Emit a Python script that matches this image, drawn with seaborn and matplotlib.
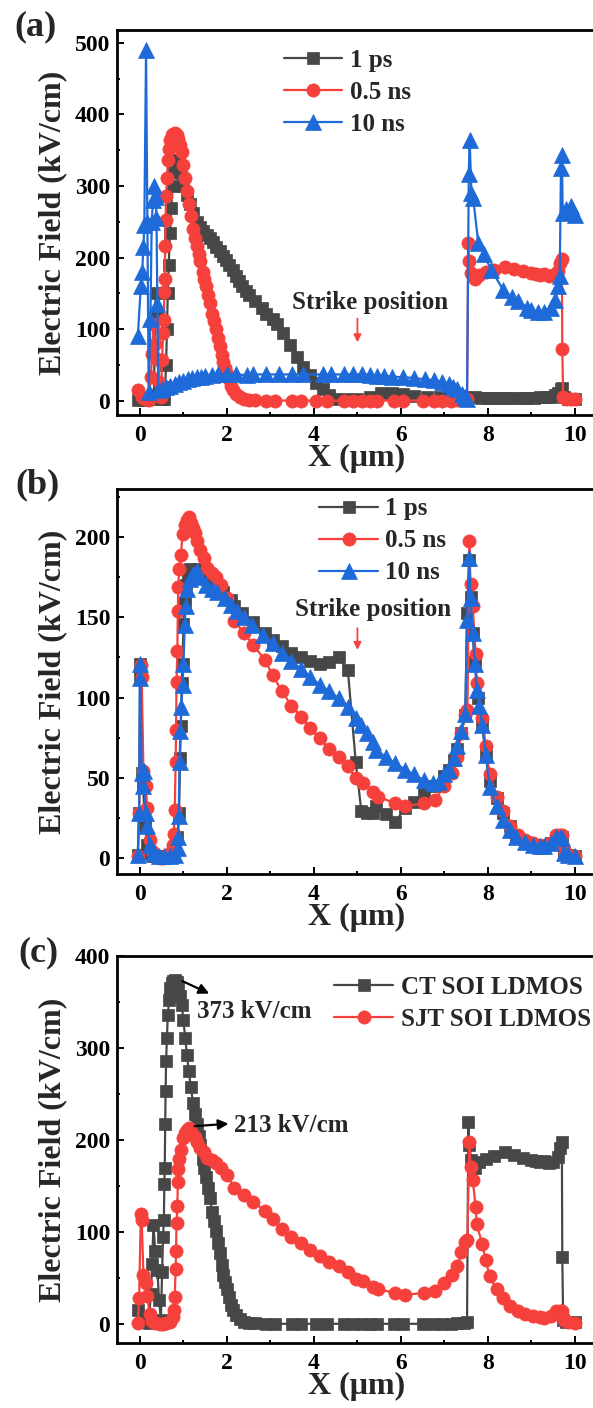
import matplotlib
matplotlib.use("Agg")
import matplotlib.pyplot as plt
import seaborn as sns
from matplotlib.ticker import MultipleLocator

# ---------------- data ----------------
# (a) 1 ps
a1_x = [-0.05, 0.1, 0.25, 0.32, 0.36, 0.4, 0.44, 0.5, 0.55, 0.58, 0.6, 0.62, 0.64, 0.66, 0.69, 0.72, 0.75, 0.78,
        0.82, 0.86, 0.9, 0.95, 1.0, 1.08, 1.15, 1.22, 1.3, 1.38, 1.45, 1.53, 1.6, 1.68, 1.75, 1.83, 1.9, 1.98, 2.05,
        2.13, 2.2, 2.28, 2.35, 2.43, 2.5, 2.65, 2.8, 2.9, 3.05, 3.15, 3.3, 3.45, 3.6, 3.75, 3.9, 4.05, 4.2, 4.35,
        4.5, 4.75, 5.0, 5.3, 5.55, 5.8, 6.05, 6.3, 6.6, 6.9, 7.2, 7.45, 7.7, 7.85, 8.0, 8.15, 8.3, 8.45, 8.6, 8.75,
        8.9, 9.05, 9.2, 9.35, 9.45, 9.55, 9.62, 9.68, 9.71, 9.75, 9.85, 10.0]
a1_y = [1, 1, 2, 8, 150, 120, 10, 2, 2, 20, 50, 100, 150, 190, 235, 270, 300, 320,
        332, 337, 333, 318, 300, 287, 275, 262, 250, 243, 237, 232, 228, 222, 215, 209, 203, 197, 190,
        183, 175, 168, 160, 154, 148, 140, 130, 122, 114, 107, 95, 78, 62, 48, 36, 25, 16, 8,
        3, 2, 3, 6, 11, 11, 10, 7, 5, 5, 5, 5, 5, 4, 4, 4, 4, 4, 4, 4,
        4, 4, 5, 5, 6, 8, 11, 16, 18, 5, 3, 3]

# (a) 0.5 ns  == (c) CT SOI LDMOS
ct_x = [-0.05, 0.04, 0.12, 0.2, 0.25, 0.28, 0.31, 0.35, 0.4, 0.44, 0.48, 0.51, 0.53, 0.55, 0.56, 0.57, 0.58, 0.59,
        0.6, 0.62, 0.64, 0.67, 0.7, 0.73, 0.76, 0.8, 0.84, 0.88, 0.92, 0.96, 1.0, 1.04, 1.08, 1.12, 1.17, 1.22,
        1.26, 1.3, 1.35, 1.39, 1.44, 1.48, 1.52, 1.57, 1.61, 1.66, 1.7, 1.74, 1.79, 1.83, 1.88, 1.92, 1.96, 2.0,
        2.04, 2.09, 2.13, 2.2, 2.3, 2.4, 2.5, 2.65, 2.9, 3.1, 3.5, 3.7, 4.05, 4.3, 4.7, 4.9, 5.1, 5.3, 5.45, 5.85,
        6.05, 6.5, 6.75, 6.95, 7.15, 7.3, 7.45, 7.52, 7.55, 7.57, 7.62, 7.7, 7.8, 7.95, 8.15, 8.4, 8.6, 8.8, 9.0,
        9.1, 9.2, 9.3, 9.4, 9.5, 9.6, 9.66, 9.7, 9.71, 9.73, 9.8, 9.9, 10.0]
ct_y = [15, 5, 3, 1, 33, 66, 108, 80, 59, 26, 5, 57, 95, 113, 152, 170, 217, 253,
        286, 311, 336, 352, 365, 371, 373, 374, 372, 366, 357, 347, 330, 311, 293, 275, 258, 240,
        228, 217, 205, 195, 180, 170, 160, 148, 137, 122, 112, 101, 88, 77, 64, 54, 46, 38,
        30, 21, 15, 10, 6, 3, 1.5, 1, 0.5, 0.5, 0.5, 0.5, 0.5, 0.5, 0.5, 0.5, 0.5, 0.5, 0.5, 0.5,
        0.5, 0.5, 0.5, 0.5, 0.5, 1, 1, 2, 220, 195, 178, 170, 176, 180, 183, 187, 184, 181, 178,
        177, 176, 177, 175, 176, 182, 192, 198, 73, 5, 3, 3, 3]

# (a) 10 ns
a3_x = [-0.05, 0.02, 0.05, 0.08, 0.1, 0.14, 0.17, 0.2, 0.24, 0.27, 0.3, 0.33, 0.36, 0.38, 0.4, 0.42, 0.5, 0.6,
        0.7, 0.8, 0.9, 1.0, 1.1, 1.2, 1.3, 1.4, 1.5, 1.65, 1.8, 2.0, 2.2, 2.45, 2.6, 2.9, 3.2, 3.5, 3.75, 4.2,
        4.4, 4.7, 4.9, 5.1, 5.3, 5.45, 5.6, 5.8, 6.05, 6.3, 6.55, 6.75, 6.95, 7.1, 7.2, 7.3, 7.4, 7.48, 7.52,
        7.56, 7.58, 7.62, 7.66, 7.78, 7.9, 8.08, 8.35, 8.55, 8.7, 8.9, 9.0, 9.15, 9.3, 9.45, 9.55, 9.62, 9.65,
        9.68, 9.7, 9.72, 9.8, 9.9, 10.0]
a3_y = [90, 160, 180, 215, 245, 490, 250, 12, 115, 250, 280, 300, 285, 255, 135, 15, 17, 19,
        21, 24, 26, 28, 30, 32, 33, 34, 35, 36, 37, 37, 37, 36, 37, 37, 37, 37, 37, 37,
        37, 37, 37, 37, 36, 35, 35, 34, 33, 32, 30, 29, 27, 24, 20, 16, 9, 5, 3,
        317, 365, 290, 283, 220, 205, 183, 155, 145, 139, 130, 127, 124, 124, 130, 141, 160, 174,
        325, 344, 262, 268, 272, 260]

# (b) 1 ps
b1_x = [-0.05, -0.02, 0.0, 0.01, 0.04, 0.07, 0.12, 0.17, 0.22, 0.3, 0.4, 0.5, 0.6, 0.7, 0.8, 0.86, 0.9, 0.92,
        0.94, 0.96, 0.98, 1.0, 1.03, 1.06, 1.1, 1.16, 1.3, 1.42, 1.52, 1.64, 1.74, 1.9, 2.09, 2.17, 2.35, 2.6,
        2.87, 3.05, 3.26, 3.48, 3.7, 3.91, 4.13, 4.35, 4.57, 4.78, 4.96, 5.09, 5.22, 5.35, 5.43, 5.65, 5.87,
        6.09, 6.3, 6.52, 6.74, 7.0, 7.1, 7.22, 7.3, 7.39, 7.48, 7.52, 7.57, 7.6, 7.65, 7.7, 7.78, 7.87, 7.95,
        8.04, 8.2, 8.35, 8.5, 8.65, 8.85, 9.04, 9.2, 9.3, 9.45, 9.57, 9.65, 9.7, 9.74, 9.85, 10.0]
b1_y = [2, 28, 113, 121, 53, 45, 20, 8, 3, 1, 1, 0, 1, 2, 5, 13, 28, 62,
        82, 109, 121, 146, 159, 170, 178, 180, 180, 177, 174, 172, 170, 166, 161, 157, 153, 147,
        140, 136, 132, 128, 125, 123, 121, 122, 125, 117, 60, 29, 28, 28, 32, 27, 22,
        31, 35, 40, 45, 51, 55, 61, 68, 78, 89, 153, 186, 163, 140, 122, 100, 82, 65,
        48, 37, 28, 20, 13, 10, 8, 7, 7, 9, 11, 13, 13, 3, 2, 1]

# (b) 0.5 ns == (c) SJT SOI LDMOS
sjt_x = [-0.05, -0.02, 0.02, 0.04, 0.08, 0.13, 0.17, 0.22, 0.28, 0.35, 0.45, 0.52, 0.6, 0.7, 0.75, 0.78, 0.8,
         0.82, 0.83, 0.84, 0.86, 0.87, 0.88, 0.9, 0.94, 0.98, 1.03, 1.08, 1.12, 1.17, 1.22, 1.26, 1.32, 1.39,
         1.48, 1.55, 1.65, 1.74, 1.87, 2.0, 2.17, 2.4, 2.6, 2.87, 3.05, 3.26, 3.48, 3.7, 3.91, 4.13, 4.35, 4.57,
         4.78, 4.96, 5.13, 5.35, 5.48, 5.87, 6.09, 6.52, 6.78, 7.0, 7.17, 7.3, 7.39, 7.48, 7.53, 7.57, 7.6, 7.65,
         7.72, 7.74, 7.87, 7.95, 8.04, 8.2, 8.35, 8.5, 8.7, 8.85, 9.04, 9.2, 9.3, 9.45, 9.57, 9.65, 9.7, 9.74,
         9.85, 10.0]
sjt_y = [1, 28, 120, 113, 54, 45, 31, 11, 4, 1, 0, 0, 1, 3, 8, 15, 30,
         60, 80, 110, 129, 154, 169, 180, 189, 202, 208, 211, 213, 209, 206, 203, 198, 192,
         187, 181, 178, 175, 170, 162, 148, 140, 133, 123.5, 114, 104, 95, 88, 81, 74.6, 68, 63,
         57, 49.6, 46.5, 41, 38, 34, 32, 34, 36, 45, 53, 63, 78, 89, 92, 197.5, 171, 157,
         127, 109, 87, 70, 52, 38, 29, 20, 14, 11, 9, 8, 7, 9, 14, 14, 14, 5,
         2, 1]

# (b) 10 ns
b3_x = [-0.05, -0.02, 0.0, 0.01, 0.04, 0.07, 0.09, 0.13, 0.17, 0.22, 0.3, 0.43, 0.55, 0.7, 0.8, 0.87, 0.88, 0.89,
        0.91, 0.93, 0.95, 0.98, 1.0, 1.03, 1.05, 1.09, 1.15, 1.22, 1.3, 1.39, 1.52, 1.65, 1.78, 1.95, 2.09, 2.22,
        2.4, 2.57, 2.83, 3.05, 3.26, 3.48, 3.7, 3.91, 4.13, 4.35, 4.57, 4.78, 4.96, 5.09, 5.22, 5.35, 5.43, 5.65,
        5.87, 6.09, 6.3, 6.52, 6.74, 6.87, 7.0, 7.1, 7.22, 7.3, 7.39, 7.48, 7.52, 7.57, 7.6, 7.65, 7.7, 7.74,
        7.8, 7.87, 7.95, 8.04, 8.2, 8.35, 8.5, 8.65, 8.85, 9.04, 9.2, 9.3, 9.45, 9.57, 9.65, 9.7, 9.74, 9.85, 10.0]
b3_y = [2, 28, 121, 112, 53, 45, 54, 28, 20, 8, 3, 1, 1, 1, 2, 6, 13, 26,
        60, 79, 94, 108, 121, 145, 157, 168, 174, 177, 179, 175, 170, 168, 166, 162, 158, 154,
        150, 145, 139, 134, 128, 122.5, 118, 113, 108, 104, 99.6, 94, 87, 83, 78, 72.5, 67, 63,
        59, 55, 52, 48.5, 46.5, 47, 52, 55, 62, 70, 79, 90, 148.5, 187, 162, 140, 121, 105,
        95, 83, 64, 44, 32, 23.5, 17, 13, 10, 8, 7, 7, 9, 13, 12, 12, 3, 2, 1]

labels_ab = ["1 ps", "0.5 ns", "10 ns"]
labels_c = ["CT SOI LDMOS", "SJT SOI LDMOS"]
x_ticks = [0, 2, 4, 6, 8, 10]

# ---------------- style ----------------
sns.set_theme(style="ticks")
plt.rcParams["font.family"] = ["Liberation Serif", "DejaVu Serif"]
plt.rcParams["font.weight"] = "bold"
plt.rcParams["axes.labelweight"] = "bold"

C_K = "#474747"
C_R = "#F5403C"
C_B = "#1D6AD8"

fig = plt.figure(figsize=(5.93, 14.08), dpi=100)

L, W = 0.1976, 0.809
ax_a = fig.add_axes([L, 0.7053, W, 0.2734])
ax_b = fig.add_axes([L, 0.3790, W, 0.2735])
ax_c = fig.add_axes([L, 0.0460, W, 0.2750])

MS = {"s": 8.5, "o": 9.5, "^": 11.0}


def draw(ax, x, y, color, marker, label):
    sns.lineplot(x=x, y=y, ax=ax, color=color, marker=marker, markersize=MS[marker],
                 markeredgecolor=color, markeredgewidth=0.5, linewidth=1.6,
                 sort=False, estimator=None, legend=False)
    ln = ax.lines[-1]
    ln.set_label(label)
    return ln


def style(ax, ylim, ymaj):
    ax.set_xlim(-0.524, 10.506)
    ax.set_ylim(*ylim)
    ax.set_xticks(x_ticks)
    ax.xaxis.set_minor_locator(MultipleLocator(1))
    ax.yaxis.set_major_locator(MultipleLocator(ymaj))
    ax.yaxis.set_minor_locator(MultipleLocator(ymaj / 2))
    ax.tick_params(which="both", direction="in", width=1.4, labelsize=17, colors="black",
                   top=False, right=False)
    ax.tick_params(which="major", length=5)
    ax.tick_params(which="minor", length=2.5)
    ax.tick_params(axis="x", pad=7)
    ax.tick_params(axis="y", pad=5)
    for s in ax.spines.values():
        s.set_linewidth(2.0)
        s.set_color("black")
    ax.spines["right"].set_visible(False)
    ax.set_xlabel("X (μm)", fontsize=23)
    ax.set_ylabel("Electric Field (kV/cm)", fontsize=23)
    ax.yaxis.set_label_coords(-0.105, 0.5)
    ax.xaxis.set_label_coords(0.5, -0.075)


def legend(ax, handles, labels, bx, by):
    ax.legend(handles, labels, loc="upper left", bbox_to_anchor=(bx, by), frameon=False,
              fontsize=18, handlelength=2.35, handletextpad=0.3, labelspacing=0.36,
              borderaxespad=0, borderpad=0, numpoints=1)


# (a)
h1 = draw(ax_a, a1_x, a1_y, C_K, "s", labels_ab[0])
h2 = draw(ax_a, ct_x, ct_y, C_R, "o", labels_ab[1])
h3 = draw(ax_a, a3_x, a3_y, C_B, "^", labels_ab[2])
style(ax_a, (-19.6, 518), 100)
legend(ax_a, [h1, h2, h3], labels_ab, 0.347, 0.950)
ax_a.text(5.29, 138, "Strike position", ha="center", va="center", fontsize=18)
ax_a.annotate("", xy=(5.0, 78), xytext=(5.0, 119),
              arrowprops=dict(arrowstyle="-|>", color=C_R, lw=1.3, mutation_scale=11))

# (b)
h1 = draw(ax_b, b1_x, b1_y, C_K, "s", labels_ab[0])
h2 = draw(ax_b, sjt_x, sjt_y, C_R, "o", labels_ab[1])
h3 = draw(ax_b, b3_x, b3_y, C_B, "^", labels_ab[2])
style(ax_b, (-10.4, 230), 50)
legend(ax_b, [h1, h2, h3], labels_ab, 0.421, 0.979)
ax_b.text(5.35, 155, "Strike position", ha="center", va="center", fontsize=18)
ax_b.annotate("", xy=(5.0, 128), xytext=(5.0, 145),
              arrowprops=dict(arrowstyle="-|>", color=C_R, lw=1.3, mutation_scale=11))

# (c)
h1 = draw(ax_c, ct_x, ct_y, C_K, "s", labels_c[0])
h2 = draw(ax_c, sjt_x, sjt_y, C_R, "o", labels_c[1])
style(ax_c, (-20.6, 400), 100)
legend(ax_c, [h1, h2], labels_c, 0.453, 0.949)
ax_c.annotate("", xy=(1.65, 358), xytext=(0.92, 374),
              arrowprops=dict(arrowstyle="-|>", color="black", lw=1.6, mutation_scale=15))
ax_c.text(1.30, 340, "373 kV/cm", ha="left", va="center", fontsize=18)
ax_c.annotate("", xy=(2.1, 218), xytext=(1.19, 215),
              arrowprops=dict(arrowstyle="-|>", color="black", lw=1.6, mutation_scale=15))
ax_c.text(2.17, 215.5, "213 kV/cm", ha="left", va="center", fontsize=18)

# panel labels
fig.text(0.0607, 0.9808, "(a)", ha="center", va="center", fontsize=26)
fig.text(0.064, 0.6555, "(b)", ha="center", va="center", fontsize=26)
fig.text(0.064, 0.3232, "(c)", ha="center", va="center", fontsize=26)

fig.savefig("out.png", dpi=100)
